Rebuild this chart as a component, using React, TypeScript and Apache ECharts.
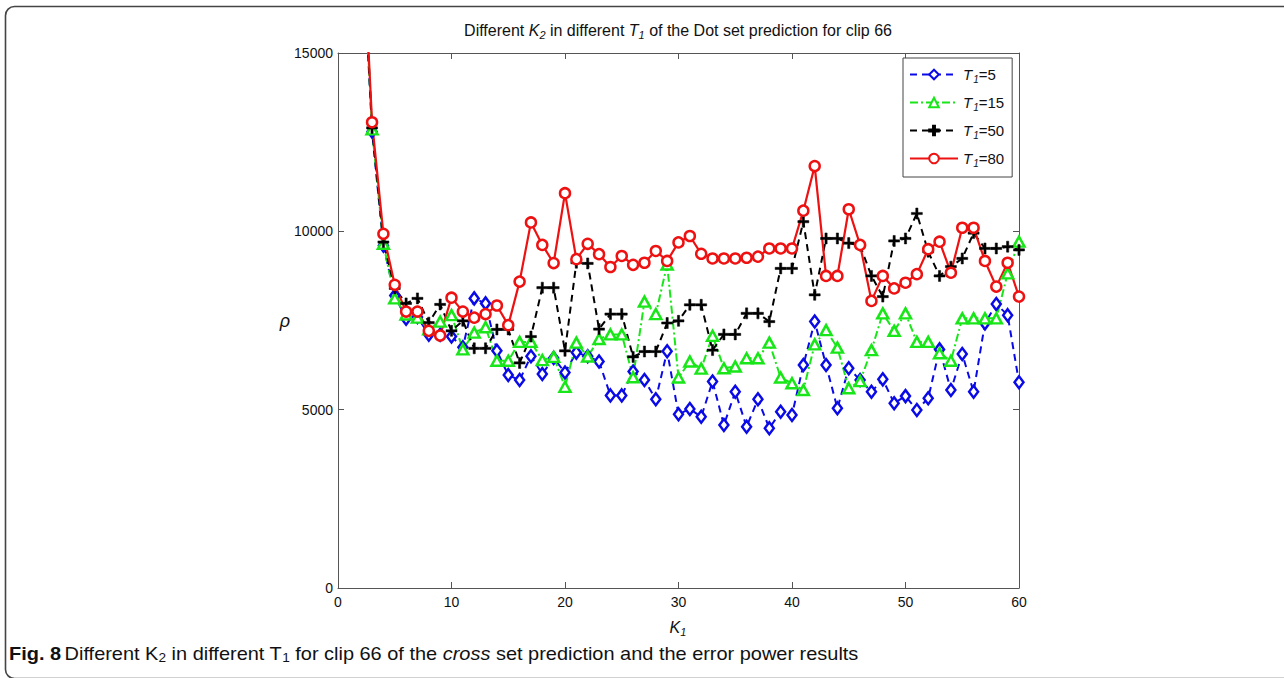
import React, { useEffect, useRef } from "react";
import * as echarts from "echarts";

// K1 values along the horizontal axis
const kValues = [
  2, 3, 4, 5, 6, 7, 8, 9, 10, 11, 12, 13, 14, 15, 16, 17, 18, 19, 20, 21,
  22, 23, 24, 25, 26, 27, 28, 29, 30, 31, 32, 33, 34, 35, 36, 37, 38, 39, 40, 41,
  42, 43, 44, 45, 46, 47, 48, 49, 50, 51, 52, 53, 54, 55, 56, 57, 58, 59, 60,
];

// rho for each T1 setting
const rhoT5 = [
  19000, 12800, 9600, 8200, 7550, 7600, 7100, 7100, 7050, 6750, 8120, 7980, 6650, 5970, 5830, 6500, 6000, 6450, 6040, 6600,
  6500, 6350, 5400, 5400, 6070, 5830, 5290, 6640, 4870, 5020, 4800, 5790, 4570, 5500, 4520, 5290, 4480, 4940, 4850, 6250,
  7470, 6250, 5040, 6160, 5830, 5500, 5850, 5180, 5380, 4990, 5320, 6690, 5550, 6560, 5500, 7420, 7960, 7650, 5770,
];
const rhoT15 = [
  19200, 12860, 9650, 8120, 7670, 7580, 7250, 7470, 7650, 6690, 7160, 7310, 6370, 6370, 6900, 6900, 6390, 6480, 5640, 6880,
  6490, 6980, 7110, 7110, 5910, 8030, 7680, 9070, 5900, 6350, 6150, 7070, 6160, 6210, 6440, 6440, 6880, 5900, 5740, 5550,
  6830, 7230, 6740, 5600, 5800, 6670, 7700, 7210, 7700, 6900, 6900, 6580, 6370, 7560, 7560, 7560, 7560, 8820, 9710,
];
const rhoT50 = [
  19300, 12900, 9700, 8400, 7980, 8120, 7440, 7950, 7210, 7490, 6720, 6720, 7250, 7250, 6310, 7050, 8420, 8420, 6650, 9120,
  9100, 7260, 7680, 7680, 6480, 6630, 6630, 7430, 7490, 7940, 7940, 6670, 7110, 7110, 7700, 7700, 7470, 8960, 8960, 10270,
  8220, 9800, 9800, 9670, 9600, 8750, 8170, 9730, 9800, 10500, 9430, 8750, 9010, 9240, 9950, 9520, 9520, 9570, 9480,
];
const rhoT80 = [
  19500, 13060, 9930, 8500, 7750, 7750, 7210, 7080, 8140, 7750, 7580, 7680, 7920, 7370, 8590, 10250, 9620, 9110, 11070, 9220,
  9650, 9360, 9000, 9310, 9060, 9120, 9450, 9170, 9690, 9870, 9370, 9240, 9240, 9240, 9260, 9290, 9520, 9520, 9520, 10580,
  11830, 8750, 8750, 10620, 9620, 8050, 8750, 8400, 8560, 8800, 9500, 9710, 8840, 10100, 10100, 9170, 8450, 9120, 8170,
];

const seriesNames = ["T1=5", "T1=15", "T1=50", "T1=80"];
const legendValues = ["5", "15", "50", "80"];
const xTicks = { min: 0, max: 60, interval: 10 };
const yTicks = { min: 0, max: 15000, interval: 5000 };

const FONT = '"Liberation Sans", Arial, sans-serif';
const PLUS = "path://M4,0H6V4H10V6H6V10H4V6H0V4H4Z";

const pairs = (vals: number[]) => kValues.map((k, i) => [k, vals[i]]);

export default function App() {
  const ref = useRef<HTMLDivElement>(null);

  useEffect(() => {
    if (!ref.current) return;
    const chart = echarts.init(ref.current, null, { renderer: "svg" });

    const tickAxis = {
      axisLine: { show: true, onZero: false, lineStyle: { color: "#555", width: 1 } },
      axisTick: { show: true, inside: true, length: 6, lineStyle: { color: "#555" } },
      splitLine: { show: false },
    };

    const lineBase = { type: "line", clip: true, showAllSymbol: true, z: 2 } as any;

    chart.setOption({
      animation: false,
      backgroundColor: "#fff",
      grid: { left: 338, right: 265, top: 53, bottom: 90, containLabel: false },
      xAxis: [
        {
          type: "value",
          ...xTicks,
          position: "bottom",
          ...tickAxis,
          axisLabel: { color: "#111", fontSize: 14, fontFamily: FONT, margin: 7 },
        },
        {
          type: "value",
          ...xTicks,
          position: "top",
          ...tickAxis,
          axisLabel: { show: false },
        },
      ],
      yAxis: [
        {
          type: "value",
          ...yTicks,
          position: "left",
          ...tickAxis,
          axisLabel: {
            color: "#111",
            fontSize: 14,
            fontFamily: FONT,
            margin: 5,
            formatter: (v: number) => String(v),
          },
        },
        {
          type: "value",
          ...yTicks,
          position: "right",
          ...tickAxis,
          axisLabel: { show: false },
        },
      ],
      legend: {
        orient: "vertical",
        left: 903,
        top: 58,
        data: seriesNames,
        backgroundColor: "#fff",
        borderColor: "#444",
        borderWidth: 1,
        borderRadius: 0,
        padding: [9, 8, 9, 6],
        itemWidth: 48,
        itemHeight: 12,
        itemGap: 11,
        formatter: (name: string) => {
          const v = legendValues[seriesNames.indexOf(name)];
          return `{i|T}{s|1}{n|=${v}}`;
        },
        textStyle: {
          fontFamily: FONT,
          fontSize: 15,
          color: "#111",
          rich: {
            i: { fontStyle: "italic", fontSize: 15, fontFamily: FONT, color: "#111" },
            s: { fontStyle: "italic", fontSize: 10, fontFamily: FONT, color: "#111", padding: [9, 0, 0, 1] },
            n: { fontSize: 15, fontFamily: FONT, color: "#111" },
          },
        },
      },
      series: [
        {
          ...lineBase,
          name: seriesNames[0],
          data: pairs(rhoT5),
          symbol: "diamond",
          symbolSize: [9, 12],
          lineStyle: { color: "#0a0ae6", width: 2, type: [7, 5] },
          itemStyle: { color: "#fff", borderColor: "#0a0ae6", borderWidth: 2.5 },
        },
        {
          ...lineBase,
          name: seriesNames[1],
          data: pairs(rhoT15),
          symbol: "triangle",
          symbolSize: [11, 10],
          lineStyle: { color: "#19e619", width: 2, type: [8, 3, 2, 3] },
          itemStyle: { color: "#fff", borderColor: "#19e619", borderWidth: 2.5 },
        },
        {
          ...lineBase,
          name: seriesNames[2],
          data: pairs(rhoT50),
          symbol: PLUS,
          symbolSize: 11,
          lineStyle: { color: "#000", width: 2, type: [7, 5] },
          itemStyle: { color: "#000", borderColor: "#000", borderWidth: 0.5 },
        },
        {
          ...lineBase,
          name: seriesNames[3],
          data: pairs(rhoT80),
          symbol: "circle",
          symbolSize: 10,
          lineStyle: { color: "#ee1111", width: 2.2, type: "solid" },
          itemStyle: { color: "#fff", borderColor: "#ee1111", borderWidth: 2.5 },
        },
      ],
      graphic: [
        {
          type: "rect",
          silent: true,
          z: -10,
          shape: { x: 5.5, y: 6.5, width: 1320, height: 672, r: 9 },
          style: { fill: "none", stroke: "#444", lineWidth: 1.6 },
        },
        {
          type: "text",
          x: 678,
          y: 30,
          style: {
            text: "{n|Different }{i|K}{s|2}{n| in different }{i|T}{s|1}{n| of the Dot set prediction for clip 66}",
            align: "center",
            verticalAlign: "middle",
            fill: "#111",
            rich: {
              n: { fontSize: 16, fontFamily: FONT, fill: "#111" },
              i: { fontSize: 16, fontFamily: FONT, fontStyle: "italic", fill: "#111" },
              s: { fontSize: 11, fontFamily: FONT, fontStyle: "italic", fill: "#111", padding: [10, 0, 0, 0] },
            },
          },
        },
        {
          type: "text",
          x: 678,
          y: 627,
          style: {
            text: "{i|K}{s|1}",
            align: "center",
            verticalAlign: "middle",
            rich: {
              i: { fontSize: 16, fontFamily: FONT, fontStyle: "italic", fill: "#111" },
              s: { fontSize: 11, fontFamily: FONT, fontStyle: "italic", fill: "#111", padding: [10, 0, 0, 0] },
            },
          },
        },
        {
          type: "text",
          x: 285,
          y: 321,
          style: {
            text: "ρ",
            align: "center",
            verticalAlign: "middle",
            fontSize: 18,
            fontFamily: FONT,
            fontStyle: "italic",
            fill: "#111",
          },
        },
        {
          type: "text",
          x: 9,
          y: 653,
          scaleX: 1.05,
          style: {
            text: "{b|Fig. 8} {n|Different K}{s|2}{n| in different T}{s|1}{n| for clip 66 of the }{i|cross}{n| set prediction and the error power results}",
            align: "left",
            verticalAlign: "middle",
            rich: {
              b: { fontSize: 19, fontFamily: FONT, fontWeight: "bold", fill: "#111" },
              n: { fontSize: 19, fontFamily: FONT, fill: "#111" },
              i: { fontSize: 19, fontFamily: FONT, fontStyle: "italic", fill: "#111" },
              s: { fontSize: 13, fontFamily: FONT, fill: "#111", padding: [10, 0, 0, 0] },
            },
          },
        },
      ],
    });

    return () => chart.dispose();
  }, []);

  return (
    <div
      ref={ref}
      style={{ position: "fixed", left: 0, top: 0, width: 1284, height: 678 }}
    />
  );
}
